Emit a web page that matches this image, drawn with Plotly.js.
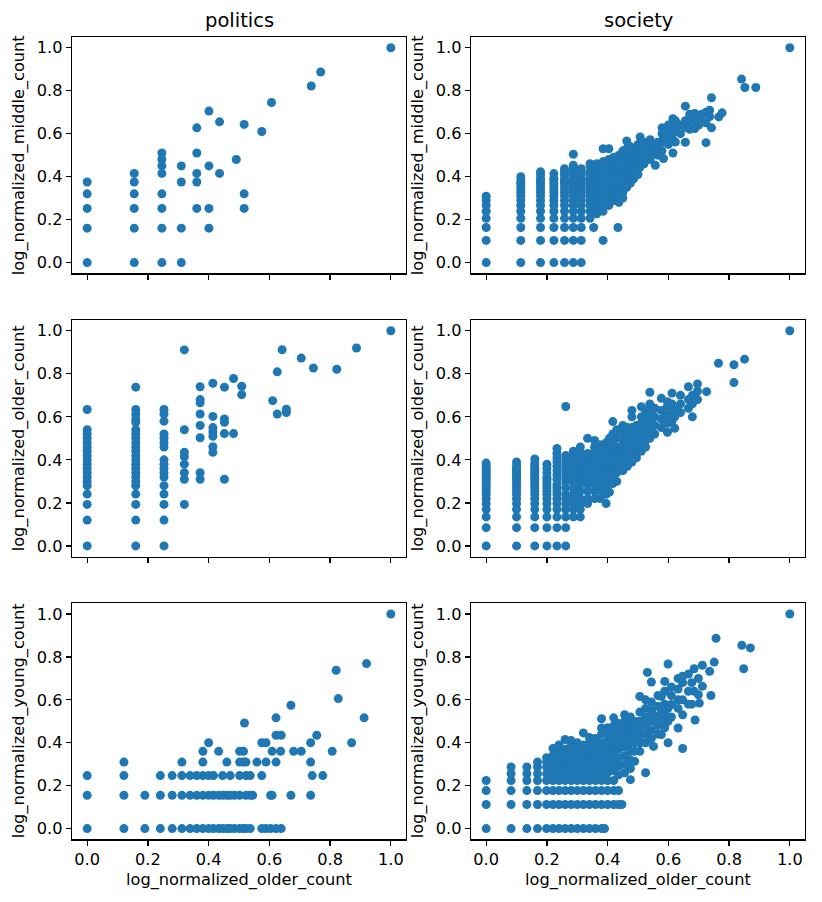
<!DOCTYPE html>
<html>
<head>
<meta charset="utf-8">
<script src="https://cdn.plot.ly/plotly-3.0.1.min.js"></script>
<style>html,body{margin:0;padding:0;background:#fff;}#chart{width:822px;height:902px;}</style>
</head>
<body>
<div id="chart"></div>
<script>
// ---------- DATA ----------
const columnTitles = ["politics", "society"];
const rowYLabels = ["log_normalized_middle_count", "log_normalized_older_count", "log_normalized_young_count"];
const xLabel = "log_normalized_older_count";
const tickVals = [0, 0.2, 0.4, 0.6, 0.8, 1.0];
const tickText = ["0.0", "0.2", "0.4", "0.6", "0.8", "1.0"];

// politics, middle count (columns: x value -> list of y values)
const polMidColX = [0, 0.155, 0.246, 0.31, 0.361, 0.401, 0.436, 0.491, 0.517, 0.575, 0.607, 0.738, 0.769, 1];
const polMidColY = [
  [0.375, 0.32, 0.252, 0.16, 0],
  [0.415, 0.375, 0.32, 0.252, 0.16, 0],
  [0.51, 0.48, 0.45, 0.415, 0.32, 0.252, 0.16, 0],
  [0.45, 0.375, 0.16, 0],
  [0.627, 0.51, 0.415, 0.375, 0.252],
  [0.705, 0.45, 0.252, 0.16],
  [0.655, 0.415],
  [0.48],
  [0.643, 0.32, 0.252],
  [0.61],
  [0.745],
  [0.822],
  [0.887],
  [1]
];

// politics, older count
const polOldColX = [0, 0.16, 0.253, 0.32, 0.372, 0.414, 0.452, 0.482, 0.509, 0.611, 0.626, 0.642, 0.656, 0.705, 0.745, 0.822, 0.887, 1];
const polOldColY = [
  [0.634, 0.54, 0.52, 0.50, 0.48, 0.46, 0.44, 0.42, 0.40, 0.38, 0.36, 0.34, 0.32, 0.30, 0.28, 0.241, 0.193, 0.12, 0],
  [0.738, 0.634, 0.613, 0.59, 0.575, 0.54, 0.52, 0.50, 0.48, 0.46, 0.44, 0.42, 0.40, 0.38, 0.36, 0.34, 0.32, 0.30, 0.28, 0.241, 0.193, 0.12, 0],
  [0.634, 0.613, 0.58, 0.52, 0.50, 0.48, 0.46, 0.40, 0.38, 0.36, 0.34, 0.32, 0.28, 0.241, 0.193, 0.12, 0],
  [0.911, 0.54, 0.435, 0.415, 0.38, 0.34, 0.31, 0.193],
  [0.74, 0.68, 0.665, 0.613, 0.56, 0.503, 0.34, 0.31],
  [0.756, 0.602, 0.55, 0.53, 0.51, 0.461, 0.435],
  [0.738, 0.59, 0.575, 0.522, 0.31],
  [0.778, 0.522],
  [0.742, 0.703],
  [0.675],
  [0.809, 0.613],
  [0.912],
  [0.635, 0.62],
  [0.873],
  [0.827],
  [0.821],
  [0.92],
  [1]
];

// politics, young count (rows: y value -> list of x values)
const polYoungRowY = [0, 0.155, 0.247, 0.31, 0.36, 0.40, 0.435, 0.492, 0.516, 0.575, 0.606, 0.738, 0.769, 1];
const polYoungRowX = [
  [0, 0.121, 0.19, 0.241, 0.28, 0.312, 0.339, 0.361, 0.381, 0.4, 0.416, 0.433, 0.446, 0.46, 0.471, 0.485, 0.502, 0.515, 0.523, 0.537, 0.575, 0.589, 0.604, 0.622, 0.639],
  [0, 0.121, 0.19, 0.241, 0.28, 0.312, 0.339, 0.361, 0.381, 0.4, 0.416, 0.433, 0.446, 0.46, 0.471, 0.485, 0.502, 0.523, 0.537, 0.545, 0.604, 0.609, 0.671, 0.736],
  [0, 0.121, 0.241, 0.28, 0.312, 0.339, 0.361, 0.381, 0.4, 0.416, 0.446, 0.471, 0.502, 0.523, 0.537, 0.575, 0.741, 0.776],
  [0.121, 0.312, 0.381, 0.46, 0.502, 0.515, 0.523, 0.559, 0.589, 0.622, 0.736],
  [0.381, 0.433, 0.502, 0.515, 0.609, 0.637, 0.68, 0.705, 0.807],
  [0.4, 0.575, 0.589, 0.736, 0.871],
  [0.622, 0.639, 0.756],
  [0.518],
  [0.622, 0.912],
  [0.671],
  [0.827],
  [0.82],
  [0.92],
  [1]
];

// society, middle count
const socMidColX = [0, 0.114, 0.179, 0.223, 0.258, 0.287, 0.313, 0.342, 0.354, 0.364, 0.385, 0.404, 0.42, 0.434, 0.437, 0.45, 0.463, 0.475, 0.486, 0.5, 0.507, 0.52, 0.54, 0.557, 0.565, 0.579, 0.584, 0.6, 0.615, 0.623, 0.64, 0.656, 0.67, 0.687, 0.70, 0.71, 0.724, 0.736, 0.742, 0.766, 0.777, 0.841, 0.852, 0.888, 1];
const socMidColY = [
  [0, 0.103, 0.163, 0.206, 0.239, 0.266, 0.289, 0.309],
  [0, 0.103, 0.163, 0.206, 0.239, 0.266, 0.289, 0.309, 0.326, 0.342, 0.356, 0.369, 0.381, 0.40],
  [0, 0.103, 0.163, 0.206, 0.239, 0.266, 0.289, 0.309, 0.326, 0.342, 0.356, 0.369, 0.381, 0.392, 0.41, 0.423],
  [0, 0.103, 0.163, 0.206, 0.239, 0.266, 0.289, 0.309, 0.326, 0.342, 0.356, 0.369, 0.381, 0.392, 0.414],
  [0, 0.103, 0.163, 0.206, 0.239, 0.266, 0.289, 0.309, 0.326, 0.342, 0.356, 0.369, 0.381, 0.392, 0.41, 0.423, 0.437],
  [0, 0.103, 0.163, 0.206, 0.239, 0.266, 0.289, 0.309, 0.326, 0.342, 0.356, 0.369, 0.381, 0.392, 0.41, 0.423, 0.437, 0.453, 0.504],
  [0, 0.103, 0.163, 0.206, 0.239, 0.266, 0.289, 0.309, 0.326, 0.342, 0.356, 0.369, 0.381, 0.392, 0.41, 0.423, 0.437],
  [0.206, 0.239, 0.266, 0.289, 0.309, 0.326, 0.342, 0.356, 0.369, 0.381, 0.392, 0.41, 0.423, 0.45, 0.46],
  [0.163],
  [0.227, 0.25, 0.266, 0.289, 0.309, 0.326, 0.342, 0.356, 0.369, 0.381, 0.40, 0.42, 0.44, 0.46],
  [0.103, 0.239, 0.266, 0.289, 0.309, 0.326, 0.342, 0.356, 0.381, 0.40, 0.423, 0.45, 0.47, 0.53],
  [0.266, 0.289, 0.309, 0.326, 0.342, 0.369, 0.392, 0.41, 0.437, 0.46, 0.48, 0.53],
  [0.289, 0.309, 0.342, 0.356, 0.381, 0.40, 0.423, 0.45, 0.47, 0.49],
  [0.163],
  [0.28, 0.309, 0.326, 0.356, 0.381, 0.41, 0.437, 0.46, 0.48, 0.50],
  [0.30, 0.326, 0.35, 0.37, 0.40, 0.42, 0.45, 0.47, 0.50, 0.52],
  [0.35, 0.38, 0.41, 0.44, 0.47, 0.50, 0.53, 0.566],
  [0.37, 0.40, 0.43, 0.46, 0.49, 0.51, 0.54],
  [0.39, 0.42, 0.45, 0.48, 0.50, 0.53],
  [0.41, 0.44, 0.47, 0.50, 0.52, 0.55],
  [0.445, 0.48, 0.51, 0.585],
  [0.46, 0.49, 0.53, 0.56],
  [0.48, 0.51, 0.54, 0.572],
  [0.453, 0.52, 0.55],
  [0.50, 0.53, 0.56],
  [0.52, 0.56, 0.60, 0.627],
  [0.484, 0.58],
  [0.55, 0.59, 0.62, 0.64],
  [0.51, 0.57, 0.60, 0.67],
  [0.561, 0.63, 0.66],
  [0.60, 0.64],
  [0.56, 0.63, 0.66, 0.728],
  [0.62, 0.66, 0.69],
  [0.624, 0.66, 0.694],
  [0.64, 0.68],
  [0.66, 0.69],
  [0.558, 0.65, 0.70],
  [0.709, 0.68],
  [0.627, 0.767],
  [0.678],
  [0.697],
  [0.854],
  [0.815],
  [0.815],
  [1]
];

// society, older count
const socOldColX = [0, 0.1, 0.16, 0.2, 0.233, 0.262, 0.287, 0.31, 0.334, 0.357, 0.375, 0.395, 0.406, 0.417, 0.43, 0.45, 0.465, 0.48, 0.495, 0.511, 0.525, 0.539, 0.555, 0.577, 0.597, 0.612, 0.621, 0.64, 0.666, 0.679, 0.696, 0.726, 0.765, 0.816, 0.851, 1];
const socOldColY = [
  [0, 0.085, 0.135, 0.17, 0.197, 0.22, 0.24, 0.255, 0.27, 0.285, 0.297, 0.31, 0.32, 0.33, 0.34, 0.35, 0.36, 0.372, 0.385],
  [0, 0.085, 0.135, 0.17, 0.197, 0.22, 0.24, 0.255, 0.27, 0.285, 0.297, 0.31, 0.32, 0.33, 0.34, 0.35, 0.36, 0.372, 0.39],
  [0, 0.085, 0.135, 0.17, 0.197, 0.22, 0.24, 0.255, 0.27, 0.285, 0.297, 0.31, 0.32, 0.33, 0.34, 0.35, 0.36, 0.372, 0.385, 0.404],
  [0, 0.085, 0.135, 0.17, 0.197, 0.22, 0.24, 0.255, 0.27, 0.285, 0.297, 0.31, 0.32, 0.34, 0.36, 0.38],
  [0, 0.085, 0.135, 0.17, 0.197, 0.22, 0.24, 0.255, 0.27, 0.285, 0.31, 0.33, 0.35, 0.37, 0.39, 0.41, 0.43, 0.453],
  [0, 0.085, 0.135, 0.17, 0.197, 0.22, 0.24, 0.27, 0.297, 0.32, 0.34, 0.36, 0.38, 0.40, 0.42, 0.648],
  [0.135, 0.17, 0.197, 0.22, 0.24, 0.27, 0.297, 0.32, 0.34, 0.36, 0.38, 0.40, 0.42, 0.44],
  [0.135, 0.17, 0.197, 0.22, 0.255, 0.285, 0.31, 0.33, 0.35, 0.37, 0.39, 0.41, 0.43, 0.46],
  [0.197, 0.22, 0.255, 0.285, 0.31, 0.33, 0.35, 0.37, 0.39, 0.41, 0.43, 0.50],
  [0.22, 0.255, 0.285, 0.31, 0.34, 0.36, 0.38, 0.40, 0.42, 0.44, 0.46, 0.49],
  [0.22, 0.26, 0.29, 0.32, 0.35, 0.37, 0.39, 0.41, 0.44, 0.47],
  [0.197, 0.24, 0.28, 0.31, 0.34, 0.37, 0.39, 0.42, 0.45, 0.48],
  [0.25, 0.29, 0.33, 0.36, 0.40, 0.43, 0.46, 0.50],
  [0.29, 0.32, 0.35, 0.38, 0.41, 0.44, 0.47, 0.52, 0.578],
  [0.30, 0.34, 0.37, 0.40, 0.43, 0.46, 0.50, 0.54],
  [0.35, 0.38, 0.41, 0.44, 0.47, 0.50, 0.53, 0.56],
  [0.37, 0.40, 0.43, 0.46, 0.49, 0.52, 0.55],
  [0.39, 0.42, 0.45, 0.48, 0.51, 0.55, 0.60, 0.63],
  [0.41, 0.44, 0.47, 0.50, 0.53, 0.56],
  [0.44, 0.47, 0.50, 0.53, 0.57, 0.60, 0.647],
  [0.46, 0.49, 0.53, 0.56, 0.60, 0.63],
  [0.50, 0.54, 0.58, 0.62, 0.66, 0.714],
  [0.52, 0.56, 0.60, 0.64],
  [0.55, 0.59, 0.63, 0.686],
  [0.528, 0.57, 0.61, 0.65, 0.67],
  [0.58, 0.62, 0.66, 0.71],
  [0.547, 0.60, 0.64],
  [0.62, 0.66, 0.70],
  [0.64, 0.68, 0.74],
  [0.60, 0.66, 0.70],
  [0.68, 0.72, 0.753],
  [0.717],
  [0.849],
  [0.842, 0.759],
  [0.868],
  [1]
];

// society, young count
const socYoungColX = [0, 0.082, 0.134, 0.169, 0.199, 0.22, 0.24, 0.26, 0.28, 0.30, 0.32, 0.34, 0.36, 0.38, 0.39, 0.40, 0.42, 0.436, 0.447, 0.456, 0.475, 0.489, 0.506, 0.525, 0.531, 0.544, 0.551, 0.566, 0.577, 0.588, 0.599, 0.61, 0.632, 0.647, 0.666, 0.677, 0.685, 0.688, 0.699, 0.702, 0.712, 0.736, 0.74, 0.751, 0.757, 0.842, 0.848, 0.87, 1];
const socYoungColY = [
  [0, 0.112, 0.177, 0.224],
  [0, 0.112, 0.177, 0.224, 0.256, 0.287],
  [0, 0.112, 0.177, 0.224, 0.256, 0.287],
  [0, 0.112, 0.177, 0.224, 0.256, 0.287, 0.31],
  [0, 0.112, 0.177, 0.224, 0.256, 0.287, 0.31, 0.33],
  [0, 0.112, 0.177, 0.224, 0.256, 0.287, 0.31, 0.34, 0.373],
  [0, 0.112, 0.177, 0.224, 0.256, 0.287, 0.31, 0.33, 0.36, 0.39],
  [0, 0.112, 0.177, 0.224, 0.256, 0.287, 0.31, 0.34, 0.37, 0.415],
  [0, 0.112, 0.177, 0.224, 0.256, 0.287, 0.31, 0.33, 0.36, 0.39, 0.41],
  [0, 0.112, 0.177, 0.224, 0.256, 0.287, 0.31, 0.34, 0.37, 0.40],
  [0, 0.112, 0.177, 0.224, 0.256, 0.287, 0.31, 0.33, 0.36, 0.39, 0.446],
  [0, 0.112, 0.177, 0.224, 0.256, 0.287, 0.31, 0.34, 0.37, 0.40, 0.425],
  [0, 0.112, 0.177, 0.224, 0.256, 0.287, 0.31, 0.33, 0.36, 0.39, 0.42],
  [0, 0.112, 0.177, 0.224, 0.256, 0.287, 0.31, 0.34, 0.37, 0.40, 0.44, 0.469, 0.512],
  [0],
  [0.112, 0.177, 0.224, 0.26, 0.29, 0.32, 0.35, 0.38, 0.41, 0.44, 0.47],
  [0.112, 0.177, 0.224, 0.27, 0.30, 0.33, 0.36, 0.39, 0.42, 0.45, 0.48, 0.516],
  [0.112, 0.177, 0.25, 0.29, 0.33, 0.37, 0.40, 0.43, 0.46, 0.49],
  [0.112],
  [0.26, 0.30, 0.34, 0.38, 0.41, 0.44, 0.47, 0.50, 0.531],
  [0.228, 0.28, 0.32, 0.36, 0.40, 0.43, 0.46, 0.49, 0.52],
  [0.314, 0.36, 0.40, 0.44, 0.47, 0.50],
  [0.36, 0.40, 0.43, 0.469, 0.50, 0.543, 0.616],
  [0.26, 0.40, 0.44, 0.48, 0.52, 0.56, 0.60],
  [0.728],
  [0.42, 0.46, 0.50, 0.55, 0.59, 0.683],
  [0.383, 0.53],
  [0.44, 0.48, 0.52, 0.57, 0.62],
  [0.438, 0.50, 0.55, 0.616],
  [0.47, 0.53, 0.58, 0.64, 0.686],
  [0.40, 0.50, 0.56, 0.767],
  [0.52, 0.578, 0.62, 0.66],
  [0.469, 0.56, 0.60, 0.65, 0.70],
  [0.373, 0.53, 0.60, 0.68, 0.71],
  [0.58, 0.64, 0.72],
  [0.58, 0.68],
  [0.745, 0.64],
  [0.506],
  [0.624, 0.70],
  [0.585],
  [0.761, 0.663],
  [0.733],
  [0.62],
  [0.776],
  [0.887],
  [0.854],
  [0.745],
  [0.842],
  [1]
];

// ---------- BUILD ----------
function fromColumns(colX, colY) {
  const x = [], y = [];
  colX.forEach((cx, i) => colY[i].forEach(v => { x.push(cx); y.push(v); }));
  return {x, y};
}
function fromRows(rowY, rowX) {
  const x = [], y = [];
  rowY.forEach((ry, i) => rowX[i].forEach(v => { x.push(v); y.push(ry); }));
  return {x, y};
}

const panels = [
  fromColumns(polMidColX, polMidColY),
  fromColumns(socMidColX, socMidColY),
  fromColumns(polOldColX, polOldColY),
  fromColumns(socOldColX, socOldColY),
  fromRows(polYoungRowY, polYoungRowX),
  fromColumns(socYoungColX, socYoungColY)
];

const W = 822, H = 902;
const xDomL = [72 / W, 406 / W];
const xDomR = [471 / W, 805 / W];
const yDoms = [
  [1 - 273.3 / H, 1 - 37 / H],
  [1 - 556.7 / H, 1 - 320 / H],
  [1 - 839.3 / H, 1 - 603.3 / H]
];

const FONT = "DejaVu Sans, Liberation Sans, sans-serif";
const LABEL_SIZE = 16.2;
const TITLE_SIZE = 19.5;
const tickFont = {family: FONT, size: LABEL_SIZE, color: "#000"};

const traces = [];
const layout = {
  width: W, height: H,
  margin: {l: 0, r: 0, t: 0, b: 0},
  paper_bgcolor: "#fff",
  plot_bgcolor: "#fff",
  showlegend: false,
  annotations: []
};

panels.forEach((p, i) => {
  const n = i + 1;
  const row = Math.floor(i / 2), col = i % 2;
  const xa = n === 1 ? "xaxis" : "xaxis" + n;
  const ya = n === 1 ? "yaxis" : "yaxis" + n;
  const xr = n === 1 ? "x" : "x" + n;
  const yr = n === 1 ? "y" : "y" + n;
  traces.push({
    type: "scatter", mode: "markers",
    x: p.x, y: p.y, xaxis: xr, yaxis: yr,
    marker: {size: 9, color: "#1f77b4", line: {width: 0}},
    hoverinfo: "x+y"
  });
  const common = {
    range: [-0.05, 1.05],
    showline: true, mirror: true, linecolor: "#000", linewidth: 1.2,
    ticks: "outside", ticklen: 5, tickwidth: 1.2, tickcolor: "#000",
    showgrid: false, zeroline: false,
    tickmode: "array", tickvals: tickVals, ticktext: tickText,
    tickfont: tickFont, fixedrange: true
  };
  layout[xa] = Object.assign({}, common, {
    domain: col === 0 ? xDomL : xDomR,
    anchor: yr,
    showticklabels: row === 2
  });
  layout[ya] = Object.assign({}, common, {
    domain: yDoms[row],
    anchor: xr,
    showticklabels: true
  });
  const yMid = (yDoms[row][0] + yDoms[row][1]) / 2;
  layout.annotations.push({
    xref: "paper", yref: "paper",
    x: (col === 0 ? 19 : 418) / W, y: yMid,
    xanchor: "center", yanchor: "middle",
    text: rowYLabels[row], textangle: -90, showarrow: false,
    font: {family: FONT, size: LABEL_SIZE, color: "#000"}
  });
});

columnTitles.forEach((t, c) => {
  const d = c === 0 ? xDomL : xDomR;
  layout.annotations.push({
    xref: "paper", yref: "paper",
    x: (d[0] + d[1]) / 2, y: 1 - 20.5 / H,
    xanchor: "center", yanchor: "middle",
    text: t, showarrow: false,
    font: {family: FONT, size: TITLE_SIZE, color: "#000"}
  });
  layout.annotations.push({
    xref: "paper", yref: "paper",
    x: (d[0] + d[1]) / 2, y: 1 - 880 / H,
    xanchor: "center", yanchor: "middle",
    text: xLabel, showarrow: false,
    font: {family: FONT, size: LABEL_SIZE, color: "#000"}
  });
});

Plotly.newPlot("chart", traces, layout, {displayModeBar: false, staticPlot: true});
</script>
</body>
</html>
